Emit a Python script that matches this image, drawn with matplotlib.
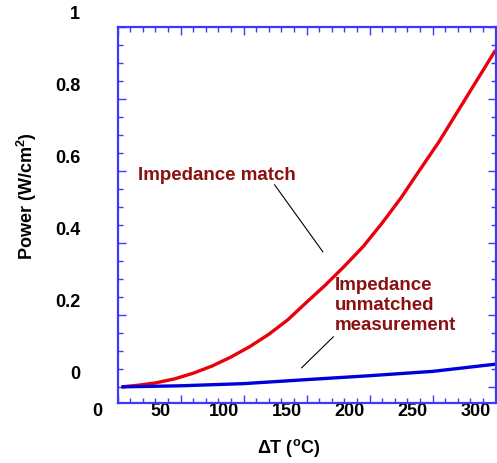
import matplotlib
matplotlib.use('Agg')
import matplotlib.pyplot as plt
import matplotlib.transforms as mtransforms

plt.rcParams['font.family'] = ['Liberation Sans', 'DejaVu Sans']
plt.rcParams['font.weight'] = 'bold'
plt.rcParams['mathtext.fontset'] = 'custom'
plt.rcParams['mathtext.rm'] = 'Liberation Sans:bold'
plt.rcParams['mathtext.bf'] = 'Liberation Sans:bold'

# Values
match_dt = [3, 15, 30, 45, 60, 75, 90, 105, 120, 135, 150, 165, 180, 195, 210, 225, 240, 255, 270, 285, 300]
match_power = [0.0, 0.004, 0.011, 0.022, 0.038, 0.058, 0.083, 0.112, 0.146, 0.186, 0.235, 0.283, 0.335,
               0.39, 0.455, 0.525, 0.603, 0.68, 0.765, 0.85, 0.935]
unmatched_dt = [3, 50, 100, 145, 200, 250, 300]
unmatched_power = [0.0, 0.003, 0.009, 0.019, 0.031, 0.043, 0.063]

x_ticks = [0, 50, 100, 150, 200, 250, 300]
y_ticks = [0, 0.2, 0.4, 0.6, 0.8, 1.0]
y_tick_labels = ['0', '0.2', '0.4', '0.6', '0.8', '1']

spine_blue = '#3a3aff'
label_red = '#8b1010'

fig = plt.figure(figsize=(4.97, 4.63), dpi=100)
ax = fig.add_axes([0.2368, 0.1302, 0.997 - 0.2368, 0.9423 - 0.1302])

ax.plot(match_dt, match_power, color='#e8000b', linewidth=2.4, solid_capstyle='butt')
ax.plot(unmatched_dt, unmatched_power, color='#0000dd', linewidth=2.4, solid_capstyle='butt')

ax.set_xlim(0, 300)
ax.set_ylim(-0.044, 1.0)

ax.set_xticks(x_ticks)
ax.set_xticklabels([str(t) for t in x_ticks])
ax.set_xticks(range(0, 301, 10), minor=True)
ax.set_yticks(y_ticks)
ax.set_yticklabels(y_tick_labels)
ax.set_yticks([i * 0.05 for i in range(0, 21)], minor=True)

for side in ['left', 'right', 'top', 'bottom']:
    ax.spines[side].set_color(spine_blue)
    ax.spines[side].set_linewidth(1.6)

ax.tick_params(which='both', direction='in', top=True, right=True, color=spine_blue, width=1.0,
               labelsize=13, labelcolor='black')
ax.tick_params(which='major', length=6)
ax.tick_params(which='minor', length=3.5)
ax.tick_params(axis='x', pad=0)
ax.tick_params(axis='y', pad=27)

# the labels in the original sit a bit off their ticks
shift_x = mtransforms.ScaledTranslation(-20 / 100, 0, fig.dpi_scale_trans)
for lbl in ax.get_xticklabels():
    lbl.set_transform(lbl.get_transform() + shift_x)
    lbl.set_fontweight('bold')
shift_y = mtransforms.ScaledTranslation(0, 14 / 100, fig.dpi_scale_trans)
for lbl in ax.get_yticklabels():
    lbl.set_transform(lbl.get_transform() + shift_y)
    lbl.set_fontweight('bold')

fig.text(0.58, 0.032, r'$\Delta$T ($^{\mathbf{o}}$C)', ha='center', va='center', fontsize=13, fontweight='bold')
fig.text(0.054, 0.577, r'Power (W/cm$^{\mathbf{2}}$)', ha='center', va='center', rotation=90,
         fontsize=13, fontweight='bold')

ax.text(16, 0.588, 'Impedance match', color=label_red, fontsize=13.5, fontweight='bold',
        ha='left', va='center')
ax.text(172.5, 0.226, 'Impedance\nunmatched\nmeasurement', color=label_red, fontsize=13.5,
        fontweight='bold', ha='left', va='center', linespacing=1.2)

ax.plot([124.6, 162.9], [0.561, 0.375], color='black', linewidth=0.8)
ax.plot([171.2, 146.1], [0.139, 0.053], color='black', linewidth=0.8)

fig.savefig('out.png', dpi=100)
